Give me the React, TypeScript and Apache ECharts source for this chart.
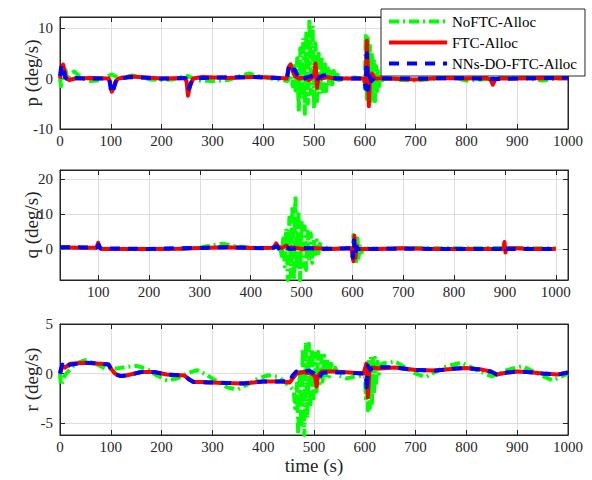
import React, { useEffect, useRef } from "react";
import * as echarts from "echarts";

// ---------- DATA ----------
const seriesNames = ["NoFTC-Alloc", "FTC-Alloc", "NNs-DO-FTC-Alloc"];
const yNames = ["p (deg/s)", "q (deg/s)", "r (deg/s)"];
const xName = "time (s)";

const xTicksFull = [0, 100, 200, 300, 400, 500, 600, 700, 800, 900, 1000];
const xTicksQ = [100, 200, 300, 400, 500, 600, 700, 800, 900, 1000];
const yTicksP = [-10, 0, 10];
const yTicksQ = [0, 10, 20];
const yTicksR = [-5, 0, 5];

const xRangeP = [0, 1000];
const xRangeQ = [25, 1024];
const xRangeR = [0, 1000];
const yRangeP = [-10, 12.2];
const yRangeQ = [-8.9, 22.7];
const yRangeR = [-6.2, 5];

// p (deg/s)
const pNoFTC = [
  [0, 0], [2, -1.5], [5, 0.8], [10, 1.8], [16, 0.2], [22, 1], [28, 1.4], [38, 0.5], [50, -0.2], [62, -0.5],
  [80, -0.3], [95, 0.5], [102, 0.8], [115, 0.2], [130, 0.3], [142, 0.6], [160, 0.2], [180, -0.2], [200, -0.3],
  [220, -0.2], [240, 0.3], [252, 0.5], [262, 0], [275, -0.4], [300, -0.5], [330, -0.3], [355, 0.5], [372, 1.0],
  [390, 0.5], [410, 0.1], [430, -0.2], [448, -0.5],
  [455, 0.8], [458, -1.5], [461, 2.5], [464, -3], [467, 4], [470, -6.5], [473, 6], [476, -4], [479, 8], [482, -7],
  [485, 9.5], [488, -5], [491, 11.8], [494, -3], [497, 10.5], [500, -6], [503, 7], [506, -4.5], [509, 5.5],
  [512, -3], [515, 4.5], [518, -2.5], [521, 3.5], [524, -2.5], [527, 2.5], [530, -1.5], [533, 2], [536, -1.2],
  [539, 1.5], [542, -0.8], [546, 0.8], [550, -0.3], [560, 0], [580, 0.2], [598, 0],
  [600, -2], [602, 9], [604, -4], [606, 8], [608, -3], [610, 6.5], [612, -4.5], [614, 5], [616, -3.5], [618, 3.5],
  [620, -4.5], [622, 2.5], [624, -2.5], [626, 1.5], [628, -1.5], [631, 0.8], [635, -0.3], [645, 0.3], [670, -0.3],
  [700, -0.4], [740, 0], [770, 0.3], [800, -0.4], [830, -0.2], [870, 0.2], [910, 0.2], [950, -0.4], [980, 0], [1000, 0.2],
];
const pFTC = [
  [0, 0], [3, 1.5], [6, 2.8], [9, 1.5], [13, 0], [18, -0.3], [30, 0], [60, 0.1], [96, 0], [99, -1], [102, -2.6],
  [106, -1.8], [110, -0.5], [115, 0], [140, 0.4], [170, 0.2], [200, 0], [245, 0.1], [249, -0.5], [252, -3.4],
  [256, -1.5], [262, 0], [280, 0.3], [330, 0.1], [380, 0.3], [420, 0.2], [446, 0], [450, 2.2], [454, 2.8],
  [458, 1.5], [463, 0.5], [470, 0], [480, 0.2], [490, -0.3], [500, 0.5], [503, 3], [506, -1.8], [509, 0.5],
  [515, 0], [525, 0.3], [540, 0], [570, 0], [598, 0], [602, -1], [604, 7.5], [606, 2], [608, -5.5], [610, 0],
  [614, 1], [620, 0], [640, 0], [700, -0.2], [750, 0.1], [800, 0], [840, 0.1], [848, -0.3], [852, -1.2],
  [856, -0.3], [862, 0], [900, 0], [950, 0.1], [1000, 0],
];
const pNNs = [
  [0, 0.5], [3, 2.8], [6, 2], [10, 0.2], [15, -0.2], [25, 0.1], [60, 0], [97, 0], [100, -2.2], [103, -3],
  [107, -1.5], [112, 0], [140, 0.3], [200, 0], [247, 0.1], [251, -1.5], [254, -2], [258, -0.8], [264, 0],
  [300, 0.2], [380, 0.3], [447, 0], [451, 2.6], [456, 1.5], [462, 1.8], [468, 0.5], [475, -0.3], [485, 0.2],
  [495, 0.5], [503, 1], [508, 0], [515, 0.5], [525, 0.8], [532, 0.3], [545, 0], [598, 0], [602, -2], [604, 5],
  [606, -2.2], [609, 0.5], [613, -0.5], [620, 0.2], [640, 0], [700, 0], [800, 0.1], [850, -0.1], [900, 0], [1000, 0.2],
];

// q (deg/s)
const qNoFTC = [
  [25, 0.4], [80, 0.3], [120, 0], [200, -0.1], [260, 0], [300, 0.4], [330, 1.2], [345, 1.5], [370, 0.8],
  [400, 0.4], [440, 0.3], [458, 0.5],
  [461, -2], [464, 3], [467, -5], [470, 6], [473, -8.9], [476, 9], [479, -8], [482, 12.5], [485, -8.9],
  [488, 15.5], [491, -6], [494, 11], [497, -8.9], [500, 8], [503, -5], [506, 6.5], [509, -6], [512, 5],
  [515, -3.5], [518, 4.5], [521, -4], [524, 3], [527, -2.5], [530, 2.5], [533, -2], [536, 1.5], [540, -1],
  [545, 0.8], [552, 0], [580, 0.3], [598, 0.2],
  [600, -3], [602, 4], [604, -4], [606, 3.5], [608, -3.5], [610, 3], [612, -2.5], [615, 1.5], [618, -1],
  [622, 0.3], [650, 0], [700, 0.3], [800, 0.2], [900, 0.3], [1000, 0.2],
];
const qFTC = [
  [25, 0.5], [60, 0.4], [97, 0.4], [100, 1.8], [102, 0.5], [106, 0], [150, 0], [200, 0], [260, 0.1], [300, 0.3],
  [350, 0.5], [400, 0.3], [445, 0.4], [450, 1.6], [455, 0.5], [462, 0.3], [470, 1], [475, 0], [480, 0.5],
  [490, 0.3], [500, 0], [520, 0.3], [560, 0], [598, 0.2], [602, -3.5], [604, 3.8], [606, -2.5], [608, 1],
  [612, 0], [650, 0], [700, 0.2], [750, 0], [800, 0], [850, 0], [897, 0], [899, 2], [901, -1], [903, 0.3],
  [950, 0], [1000, 0],
];
const qNNs = [
  [25, 0.5], [60, 0.5], [96, 0.4], [99, 0.8], [101, 1.3], [104, 0.2], [150, 0.1], [200, 0], [250, 0.2],
  [300, 0.3], [350, 0.5], [400, 0.3], [440, 0.2], [452, 0.8], [458, -0.4], [464, 0.3], [470, 0.5], [480, 0],
  [500, 0.3], [540, 0], [598, 0.2], [601, -2.5], [603, 2.5], [605, -1.5], [608, 0.5], [612, 0], [700, 0.1],
  [796, 0], [800, -0.8], [804, 0], [898, 0], [900, 0.8], [902, 0], [1000, 0],
];

// r (deg/s)
const rNoFTC = [
  [0, 0], [2, -1.2], [10, -0.15], [30, 1.0], [50, 1.35], [70, 1.0], [90, 0.5], [110, 0.5], [130, 0.67],
  [150, 0.77], [170, 0.5], [190, -0.17], [210, -0.67], [230, -0.5], [250, 0], [270, 0.34], [290, -0.17],
  [310, -0.85], [330, -1.42], [350, -1.6], [370, -1.08], [390, -0.5], [410, -0.17], [430, -0.34], [450, -1.18],
  [460, -1.7], [463, -3.5], [466, -1], [469, -6.2], [472, 0.5], [475, -5.5], [478, 2.5], [481, -6.2], [484, 3.2],
  [487, -4.5], [490, 3], [493, -3.5], [496, 2.5], [499, -2.5], [502, 2], [505, -1.8], [508, 2.2], [511, -1],
  [514, 1.8], [517, -0.8], [520, 1.8], [523, -0.5], [526, 1.5], [530, -0.3], [534, 1.0], [538, 0], [542, 0.6],
  [548, -0.2], [555, -0.3], [565, -0.5], [580, -0.3], [598, -0.2],
  [600, 0.5], [602, -2.5], [604, 1.2], [606, -3.7], [608, 1.5], [610, -3.5], [612, 1.7], [614, -3], [616, 1.5],
  [618, -2], [620, 1.6], [622, -1], [625, 1.2], [628, 0], [634, 1.0], [645, 1.1], [660, 1.2], [680, 0.6],
  [700, 0], [720, -0.35], [740, 0.2], [760, 0.7], [790, 1.1], [820, 0.35], [850, -0.3], [880, 0.35], [910, 0.75],
  [940, 0], [970, -0.7], [1000, 0],
];
const rFTC = [
  [0, 0], [3, 0.5], [6, 0.7], [10, 0.6], [20, 1.0], [50, 1.1], [80, 1.0], [95, 0.95], [100, 0.5], [108, 0],
  [118, -0.25], [130, -0.2], [160, 0.15], [185, 0.15], [210, -0.1], [245, -0.2], [252, -0.5], [262, -0.85],
  [280, -0.85], [320, -0.95], [360, -1.0], [400, -0.8], [440, -0.8], [452, -0.9], [458, -0.5], [466, 0],
  [480, 0.15], [495, 0], [502, -0.3], [505, -1.3], [508, -0.2], [515, 0.2], [540, 0.2], [570, 0.1], [598, 0],
  [603, 1.0], [606, -2.4], [609, 0.2], [615, 0.6], [630, 0.5], [660, 0.6], [700, 0.35], [740, 0.3], [780, 0.5],
  [800, 0.55], [830, 0.4], [848, 0.2], [860, -0.1], [880, 0.1], [900, 0.2], [920, 0.15], [950, 0], [980, -0.1],
  [1000, 0.1],
];
const rNNs = [
  [0, 0], [2, 0.5], [5, 0.9], [9, 0.5], [20, 0.9], [50, 1.1], [80, 1.0], [96, 0.9], [102, 0.3], [110, -0.1],
  [120, -0.25], [135, -0.15], [160, 0.15], [185, 0.15], [210, -0.1], [245, -0.2], [254, -0.6], [264, -0.85],
  [290, -0.9], [330, -0.95], [360, -1.0], [400, -0.8], [440, -0.8], [452, -0.8], [458, -0.2], [465, 0.2],
  [475, 0.1], [490, 0.3], [500, 0], [510, -0.5], [515, 0], [520, 0.1], [560, 0.1], [598, 0], [602, 0],
  [604, -1.8], [606, 0.8], [610, 0.4], [620, 0.7], [660, 0.6], [700, 0.35], [740, 0.3], [780, 0.5], [800, 0.55],
  [830, 0.4], [848, 0.2], [860, -0.1], [880, 0.1], [900, 0.2], [920, 0.15], [950, 0], [980, -0.1], [1000, 0.1],
];

// ---------- STYLE ----------
const FONT = "Liberation Serif";
const AXC = "#262626";
const GRIDC = "#dedede";
const colors = ["#00ff00", "#ff0000", "#0000ff"];
const dashes: any[] = [[10, 4, 2, 4], "solid", [10, 8]];

export default function App() {
  const ref = useRef<HTMLDivElement>(null);
  useEffect(() => {
    if (!ref.current) return;
    const chart = echarts.init(ref.current, undefined, { renderer: "svg" });

    const grids = [
      { left: 60, width: 508, top: 17, height: 112 },
      { left: 60, width: 508, top: 170, height: 110 },
      { left: 60, width: 508, top: 324, height: 111 },
    ].map((g) => ({ ...g, show: true, borderColor: AXC, borderWidth: 1, backgroundColor: "#fff" }));

    const xR = [xRangeP, xRangeQ, xRangeR];
    const yR = [yRangeP, yRangeQ, yRangeR];
    const xT = [xTicksFull, xTicksQ, xTicksFull];
    const yT = [yTicksP, yTicksQ, yTicksR];

    const fmt = (v: number) => String(v);

    const xAxes: any[] = [];
    const yAxes: any[] = [];
    for (let i = 0; i < 3; i++) {
      xAxes.push({
        type: "value",
        gridIndex: i,
        position: "bottom",
        min: xR[i][0],
        max: xR[i][1],
        axisLine: { show: true, onZero: false, lineStyle: { color: AXC, width: 1 } },
        axisTick: { show: true, inside: true, length: 5, customValues: xT[i], lineStyle: { color: AXC } },
        axisLabel: {
          show: true,
          customValues: xT[i],
          margin: 4,
          formatter: fmt,
          color: AXC,
          fontFamily: FONT,
          fontSize: 15,
        },
        splitLine: { show: true, lineStyle: { color: GRIDC, width: 1 } },
        name: i === 2 ? xName : "",
        nameLocation: "middle",
        nameGap: 21,
        nameMoveOverlap: false,
        nameTextStyle: { color: AXC, fontFamily: FONT, fontSize: 19 },
      });
      yAxes.push({
        type: "value",
        gridIndex: i,
        position: "left",
        min: yR[i][0],
        max: yR[i][1],
        axisLine: { show: true, onZero: false, lineStyle: { color: AXC, width: 1 } },
        axisTick: { show: true, inside: true, length: 5, customValues: yT[i], lineStyle: { color: AXC } },
        axisLabel: {
          show: true,
          customValues: yT[i],
          margin: 7,
          formatter: fmt,
          color: AXC,
          fontFamily: FONT,
          fontSize: 15,
        },
        splitLine: { show: true, lineStyle: { color: GRIDC, width: 1 } },
        name: yNames[i],
        nameLocation: "middle",
        nameGap: 19,
        nameMoveOverlap: false,
        nameTextStyle: { color: AXC, fontFamily: FONT, fontSize: 19 },
      });
    }
    // mirrored top / right ticks (MATLAB box)
    for (let i = 0; i < 3; i++) {
      xAxes.push({
        type: "value",
        gridIndex: i,
        position: "top",
        min: xR[i][0],
        max: xR[i][1],
        axisLine: { show: true, onZero: false, lineStyle: { color: AXC, width: 1 } },
        axisTick: { show: true, inside: true, length: 5, customValues: xT[i], lineStyle: { color: AXC } },
        axisLabel: { show: false },
        splitLine: { show: false },
      });
      yAxes.push({
        type: "value",
        gridIndex: i,
        position: "right",
        min: yR[i][0],
        max: yR[i][1],
        axisLine: { show: true, onZero: false, lineStyle: { color: AXC, width: 1 } },
        axisTick: { show: true, inside: true, length: 5, customValues: yT[i], lineStyle: { color: AXC } },
        axisLabel: { show: false },
        splitLine: { show: false },
      });
    }

    const panelData = [
      [pNoFTC, pFTC, pNNs],
      [qNoFTC, qFTC, qNNs],
      [rNoFTC, rFTC, rNNs],
    ];
    const series: any[] = [];
    for (let i = 0; i < 3; i++) {
      for (let s = 0; s < 3; s++) {
        series.push({
          type: "line",
          name: seriesNames[s],
          xAxisIndex: i,
          yAxisIndex: i,
          data: panelData[i][s],
          showSymbol: false,
          symbol: "none",
          clip: true,
          z: 2 + s,
          itemStyle: { color: colors[s] },
          lineStyle: { color: colors[s], width: 4, type: dashes[s], cap: "butt", join: "round" },
          emphasis: { disabled: true },
        });
      }
    }

    chart.setOption({
      animation: false,
      backgroundColor: "#fff",
      textStyle: { fontFamily: FONT },
      grid: grids,
      xAxis: xAxes,
      yAxis: yAxes,
      legend: {
        data: seriesNames,
        orient: "vertical",
        left: 381,
        top: 9,
        itemWidth: 58,
        itemHeight: 14,
        itemGap: 6,
        padding: [5, 8, 5, 6],
        backgroundColor: "#fff",
        borderColor: AXC,
        borderWidth: 1,
        borderRadius: 0,
        itemStyle: { opacity: 0, color: "transparent", borderWidth: 0 },
        lineStyle: { width: 4 },
        textStyle: { color: "#000", fontFamily: FONT, fontSize: 15 },
        z: 10,
      },
      series,
    });

    return () => chart.dispose();
  }, []);

  return (
    <div
      ref={ref}
      style={{ position: "absolute", left: 0, top: 0, width: 592, height: 480 }}
    />
  );
}
